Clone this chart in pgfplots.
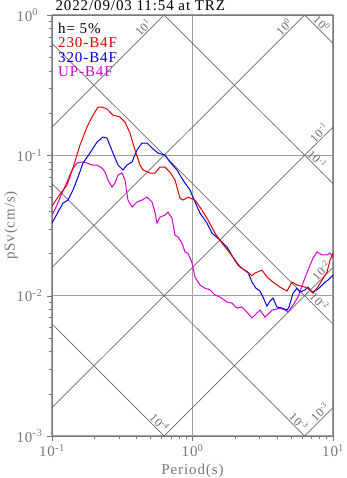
\documentclass[border=0pt]{standalone}
\usepackage{pgfplots}
\pgfplotsset{compat=1.18}
\usepackage{fontspec}
\setmainfont{Liberation Serif}[LetterSpace=6]

\definecolor{axgray}{RGB}{120,120,120}
\definecolor{gridgray}{RGB}{160,160,160}
\definecolor{diaggray}{RGB}{105,105,105}
\definecolor{cred}{RGB}{225,0,0}
\definecolor{cblue}{RGB}{0,0,225}
\definecolor{cmag}{RGB}{215,0,215}

\newcommand{\sxp}[1]{10\textsuperscript{#1}}
\tikzset{
    diag/.style={diaggray, line width=0.7pt},
    dlab/.style={pos=#1, sloped, above, inner sep=1pt, font=\fontsize{12}{14}\selectfont, text=diaggray},
}

\begin{document}
\begin{tikzpicture}
\begin{axis}[
    xmode=log, ymode=log,
    scale only axis, width=281pt, height=421pt,
    xmin=0.1, xmax=10, ymin=0.001, ymax=1,
    clip=false,
    axis line style={axgray},
    tick style={axgray},
    tick align=outside,
    xtick pos=bottom, ytick pos=left,
    major tick length=5pt, minor tick length=3pt,
    xtick={0.1,1,10},
    xticklabels={\sxp{-1},\sxp{0},\sxp{1}},
    minor xtick={0.2,0.3,0.4,0.5,0.6,0.7,0.8,0.9,2,3,4,5,6,7,8,9},
    ytick={0.001,0.01,0.1,1},
    yticklabels={\sxp{-3},\sxp{-2},\sxp{-1},\sxp{0}},
    minor ytick={0.002,0.003,0.004,0.005,0.006,0.007,0.008,0.009,0.02,0.03,0.04,0.05,0.06,0.07,0.08,0.09,0.2,0.3,0.4,0.5,0.6,0.7,0.8,0.9},
    grid=major,
    major grid style={gridgray, line width=1.2pt},
    ticklabel style={font=\fontsize{15}{18}\selectfont, text=axgray},
    yticklabel style={anchor=west, xshift=-34pt},
    xlabel={Period(s)}, ylabel={pSv(cm/s)},
    every axis x label/.style={at={(axis description cs:0.5,-0.083)}, anchor=center, font=\fontsize{15}{18}\selectfont, text=axgray},
    every axis y label/.style={at={(axis description cs:-0.146,0.5)}, rotate=90, anchor=center, font=\fontsize{15}{18}\selectfont, text=axgray},
]
\coordinate (sw) at (rel axis cs:0,0);
\coordinate (ne) at (rel axis cs:1,1);

% constant pseudo-acceleration lines
\addplot[diag] coordinates {(0.1,0.15915) (0.62832,1)} node[dlab=0.85] {\sxp{1}};
\addplot[diag] coordinates {(0.1,0.015915) (6.2832,1)} node[dlab=0.935] {\sxp{0}};
\addplot[diag] coordinates {(0.1,0.0015915) (10,0.15915)} node[dlab=0.965] {\sxp{-1}};
\addplot[diag] coordinates {(0.62832,0.001) (10,0.015915)} node[dlab=0.955] {\sxp{-2}};
\addplot[diag] coordinates {(6.2832,0.001) (10,0.0015915)} node[dlab=0.69] {\sxp{-3}};
% constant displacement lines
\addplot[diag] coordinates {(6.2832,1) (10,0.62832)} node[dlab=0.45] {\sxp{0}};
\addplot[diag] coordinates {(0.62832,1) (10,0.062832)} node[dlab=0.88] {\sxp{-1}};
\addplot[diag] coordinates {(0.1,0.62832) (10,0.0062832)} node[dlab=0.936] {\sxp{-2}};
\addplot[diag] coordinates {(0.1,0.062832) (6.2832,0.001)} node[dlab=0.96] {\sxp{-3}};
\addplot[diag] coordinates {(0.1,0.0062832) (0.62832,0.001)} node[dlab=0.92] {\sxp{-4}};

% UP-B4F
\addplot[cmag, line width=1pt] coordinates {
(0.100,0.0375) (0.1086,0.0442) (0.1178,0.0539) (0.1279,0.0645) (0.1388,0.0786)
(0.1506,0.0881) (0.1635,0.0896) (0.1775,0.0881) (0.1926,0.0853) (0.2091,0.0853)
(0.2269,0.0812) (0.2384,0.0760) (0.2503,0.0667) (0.2673,0.0594) (0.2808,0.0635)
(0.2951,0.0724) (0.3149,0.0748) (0.3307,0.0667) (0.3474,0.0480) (0.3709,0.0428)
(0.4027,0.0465) (0.4371,0.0480) (0.4747,0.0504) (0.5151,0.0465) (0.5410,0.0394)
(0.5589,0.0329) (0.5871,0.0363) (0.6372,0.0375) (0.6693,0.0394) (0.7147,0.0357)
(0.7507,0.0270) (0.7886,0.0262) (0.8419,0.0237) (0.8842,0.0205) (0.9290,0.0201)
(0.9918,0.0171) (1.042,0.0136) (1.131,0.0119) (1.227,0.0113) (1.332,0.0110)
(1.446,0.0101) (1.570,0.00977) (1.761,0.00900) (1.910,0.00886) (2.073,0.00816)
(2.250,0.00830) (2.443,0.00764) (2.651,0.00693) (2.878,0.00752) (3.023,0.00790)
(3.281,0.00704) (3.680,0.00790) (4.196,0.00816) (4.554,0.00790) (4.783,0.00764)
(5.192,0.00857) (5.635,0.00977) (6.116,0.0123) (6.639,0.0152) (7.206,0.0185)
(7.694,0.0205) (8.352,0.0195) (9.065,0.0195) (9.520,0.0201) (10.0,0.0188)
};
% 320-B4F
\addplot[cblue, line width=1pt] coordinates {
(0.100,0.0329) (0.1103,0.0394) (0.1198,0.0457) (0.1300,0.0480) (0.1411,0.0566)
(0.1531,0.0700) (0.1662,0.0881) (0.1864,0.1038) (0.2091,0.1244) (0.2307,0.1350)
(0.2463,0.1328) (0.2717,0.1038) (0.2951,0.0853) (0.3201,0.0786) (0.3417,0.0853)
(0.3709,0.0896) (0.4027,0.1091) (0.4371,0.1224) (0.4747,0.1224) (0.5151,0.1127)
(0.5682,0.1038) (0.6372,0.1005) (0.6916,0.0896) (0.7758,0.0786) (0.8557,0.0667)
(0.9598,0.0566) (1.042,0.0465) (1.131,0.0388) (1.268,0.0329) (1.376,0.0279)
(1.570,0.0249) (1.761,0.0222) (1.942,0.0188) (2.178,0.0160) (2.483,0.0147)
(2.651,0.0125) (2.831,0.0113) (3.023,0.0108) (3.175,0.00977) (3.390,0.00843)
(3.561,0.00915) (3.741,0.00961) (3.994,0.00830) (4.335,0.00816) (4.706,0.00790)
(4.862,0.00830) (5.192,0.0104) (5.544,0.0113) (5.823,0.0106) (6.320,0.0110)
(6.639,0.0115) (7.088,0.0106) (7.694,0.0110) (8.082,0.0115) (8.773,0.0125)
(9.213,0.0129) (10.0,0.0140)
};
% 230-B4F
\addplot[cred, line width=1pt] coordinates {
(0.100,0.0435) (0.1103,0.0504) (0.1279,0.0614) (0.1411,0.0812) (0.1582,0.1184)
(0.1775,0.1591) (0.1926,0.1875) (0.2125,0.2209) (0.2269,0.2209) (0.2463,0.2138)
(0.2717,0.1937) (0.3048,0.1875) (0.3307,0.1727) (0.3590,0.1442) (0.3896,0.1091)
(0.4231,0.0853) (0.4443,0.0786) (0.4985,0.0748) (0.5410,0.0748) (0.5871,0.0825)
(0.6372,0.0825) (0.6916,0.0760) (0.7507,0.0667) (0.8147,0.0496) (0.8557,0.0480)
(0.9290,0.0504) (1.042,0.0480) (1.168,0.0407) (1.290,0.0346) (1.446,0.0279)
(1.622,0.0237) (1.849,0.0201) (2.107,0.0165) (2.443,0.0147) (2.651,0.0139)
(2.785,0.0145) (3.124,0.0152) (3.390,0.0136) (3.741,0.0125) (4.196,0.0115)
(4.706,0.0108) (5.107,0.0125) (5.544,0.0119) (6.320,0.0115) (6.861,0.0110)
(7.206,0.0104) (7.694,0.0113) (8.352,0.0129) (9.065,0.0147) (9.520,0.0179)
(10.0,0.0201)
};

\node[anchor=base west, font=\fontsize{15}{18}\selectfont] at (rel axis cs:0,1) [yshift=4pt] {2022/09/03 11:54 at TRZ};
\begin{scope}[every node/.style={anchor=base west, inner sep=0pt, font=\fontsize{15}{18}\selectfont}]
\node at (rel axis cs:0.0214,0.957) {h= 5\%};
\node[text=cred] at (rel axis cs:0.0214,0.922) {230-B4F};
\node[text=cblue] at (rel axis cs:0.0214,0.887) {320-B4F};
\node[text=cmag] at (rel axis cs:0.0214,0.853) {UP-B4F};
\end{scope}
\end{axis}
\pgfresetboundingbox
\path ([shift={(-52pt,-42pt)}]sw) rectangle ([shift={(14pt,15pt)}]ne);
\end{tikzpicture}
\end{document}
